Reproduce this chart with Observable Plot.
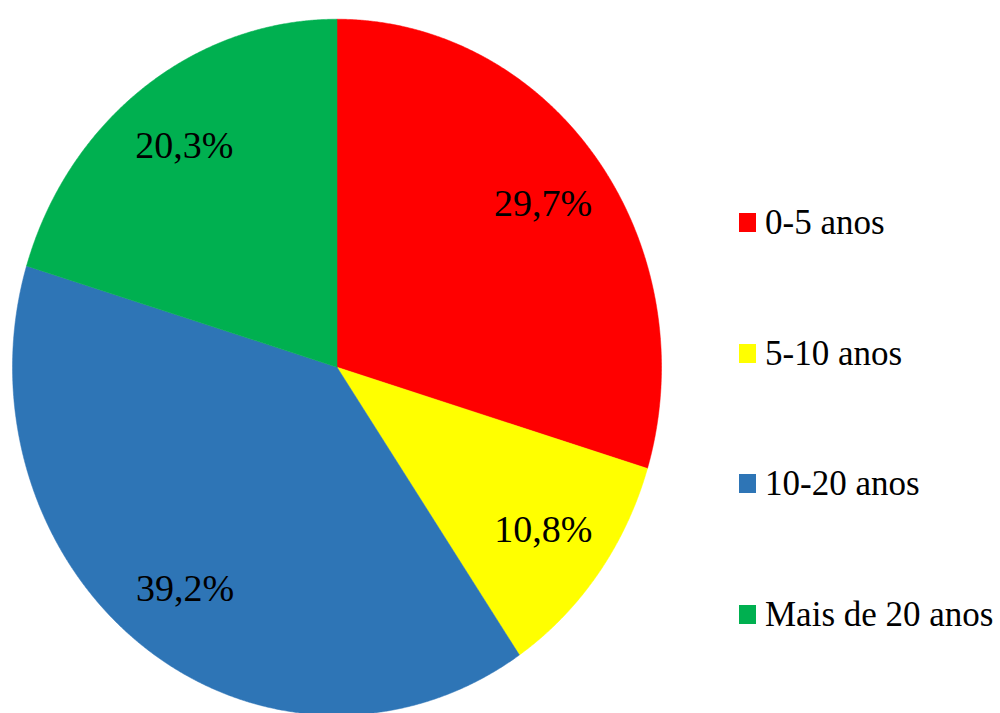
<!DOCTYPE html>
<html>
<head>
<meta charset="utf-8">
<script src="https://cdn.jsdelivr.net/npm/d3@7"></script>
<script src="https://cdn.jsdelivr.net/npm/@observablehq/plot@0.6"></script>
<style>
  html, body { margin: 0; padding: 0; background: #fff; }
  #wrap { position: relative; width: 1000px; height: 713px; overflow: hidden; }
  #legend { position: absolute; left: 739px; top: 157.25px; font-family: 'Liberation Serif', 'Times New Roman', Times, serif; font-size: 35px; color: #000; }
  .item { display: flex; align-items: center; height: 130.5px; }
  .sw { width: 17px; height: 19px; margin-right: 9px; flex: none; }
  .lab { line-height: 1; white-space: nowrap; }
</style>
</head>
<body>
<div id="wrap"></div>
<script>
const categories = ["0-5 anos", "5-10 anos", "10-20 anos", "Mais de 20 anos"];
const values = [29.7, 10.8, 39.2, 20.3];
const labels = ["29,7%", "10,8%", "39,2%", "20,3%"];
const colors = ["#FF0000", "#FFFF00", "#2E75B6", "#00B050"];

// Slice outlines derived from the values (unit circle, clockwise from 12 o'clock)
const arcs = d3.pie().sort(null).value(d => d)(values);
const pts = [];
arcs.forEach((a, i) => {
  const cat = categories[i];
  pts.push({cat, x: 0, y: 0});
  const n = Math.ceil((a.endAngle - a.startAngle) / 0.004);
  for (let k = 0; k <= n; k++) {
    const t = a.startAngle + (a.endAngle - a.startAngle) * k / n;
    pts.push({cat, x: Math.sin(t), y: Math.cos(t)});
  }
  pts.push({cat, x: 0, y: 0});
});

const labelData = arcs.map((a, i) => {
  const m = (a.startAngle + a.endAngle) / 2;
  const r = 0.79;
  return {text: labels[i], x: r * Math.sin(m), y: r * Math.cos(m)};
});

const chart = Plot.plot({
  width: 1000,
  height: 713,
  margin: 0,
  style: {background: "#fff"},
  x: {domain: [-1, 1], range: [12, 661], axis: null},
  y: {domain: [-1, 1], range: [714.7, 18.7], axis: null},
  color: {domain: categories, range: colors},
  marks: [
    Plot.line(pts, {x: "x", y: "y", z: "cat", fill: "cat", stroke: "cat", strokeWidth: 0.5, curve: "linear"}),
    Plot.text(labelData, {x: "x", y: "y", text: "text", fontSize: 38, fontFamily: "Liberation Serif", fill: "#000"})
  ]
});

const wrap = document.getElementById("wrap");
wrap.appendChild(chart);

const legend = document.createElement("div");
legend.id = "legend";
categories.forEach((c, i) => {
  const item = document.createElement("div");
  item.className = "item";
  const sw = document.createElement("span");
  sw.className = "sw";
  sw.style.background = colors[i];
  const lab = document.createElement("span");
  lab.className = "lab";
  lab.textContent = c;
  item.appendChild(sw);
  item.appendChild(lab);
  legend.appendChild(item);
});
wrap.appendChild(legend);

// force synchronous layout / font resolution before the page is captured
chart.querySelectorAll("text").forEach(t => { getComputedStyle(t).fontFamily; t.getBBox(); });
legend.querySelectorAll(".lab").forEach(l => { getComputedStyle(l).fontFamily; l.getBoundingClientRect(); });
</script>
</body>
</html>
